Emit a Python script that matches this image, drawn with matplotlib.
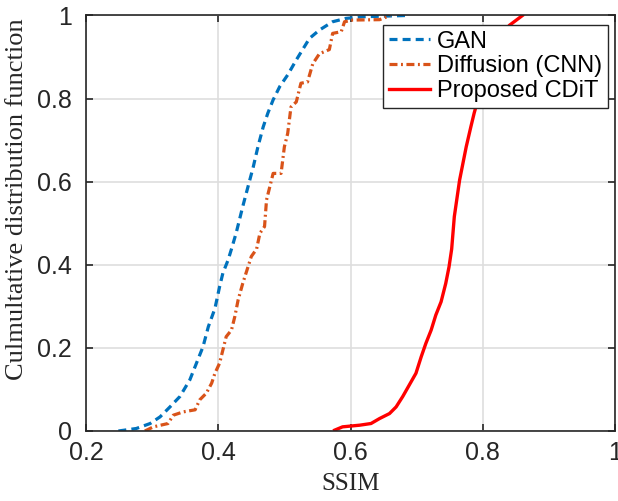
import matplotlib.pyplot as plt

gan_x = [0.249, 0.276, 0.297, 0.312, 0.327, 0.342, 0.357, 0.367, 0.377, 0.385,
         0.395, 0.402, 0.407, 0.415, 0.420, 0.427, 0.437, 0.445, 0.453, 0.460,
         0.468, 0.475, 0.483, 0.493, 0.505, 0.518, 0.538, 0.553, 0.573, 0.593,
         0.619, 0.684]
gan_y = [0.000, 0.006, 0.018, 0.034, 0.058, 0.083, 0.123, 0.163, 0.203, 0.251,
         0.295, 0.347, 0.380, 0.412, 0.438, 0.476, 0.540, 0.588, 0.636, 0.684,
         0.732, 0.765, 0.797, 0.829, 0.857, 0.893, 0.945, 0.965, 0.985, 0.993,
         0.997, 1.000]

diff_x = [0.289, 0.302, 0.324, 0.332, 0.347, 0.365, 0.372, 0.382, 0.390, 0.395,
          0.402, 0.407, 0.412, 0.420, 0.425, 0.430, 0.437, 0.445, 0.450, 0.458,
          0.463, 0.470, 0.473, 0.483, 0.495, 0.500, 0.505, 0.510, 0.518, 0.525,
          0.535, 0.543, 0.553, 0.568, 0.573, 0.586, 0.591, 0.603, 0.644, 0.660]
diff_y = [0.000, 0.010, 0.018, 0.038, 0.046, 0.051, 0.075, 0.091, 0.115, 0.139,
          0.163, 0.195, 0.227, 0.243, 0.275, 0.315, 0.355, 0.395, 0.420, 0.438,
          0.476, 0.492, 0.556, 0.620, 0.620, 0.684, 0.716, 0.780, 0.792, 0.837,
          0.840, 0.884, 0.908, 0.918, 0.957, 0.961, 0.985, 0.989, 0.990, 1.000]

cdit_x = [0.576, 0.588, 0.614, 0.631, 0.644, 0.659, 0.669, 0.679, 0.689, 0.699,
          0.707, 0.714, 0.722, 0.729, 0.737, 0.744, 0.749, 0.753, 0.757, 0.765,
          0.775, 0.782, 0.787, 0.800, 0.815, 0.828, 0.840, 0.860]
cdit_y = [0.002, 0.010, 0.014, 0.018, 0.030, 0.042, 0.058, 0.083, 0.111, 0.139,
          0.179, 0.211, 0.243, 0.279, 0.311, 0.355, 0.395, 0.438, 0.516, 0.604,
          0.684, 0.732, 0.765, 0.840, 0.900, 0.940, 0.976, 1.000]

x_ticks = [0.2, 0.4, 0.6, 0.8, 1.0]
x_tick_labels = ['0.2', '0.4', '0.6', '0.8', '1']
y_ticks = [0, 0.2, 0.4, 0.6, 0.8, 1.0]
y_tick_labels = ['0', '0.2', '0.4', '0.6', '0.8', '1']

axis_col = '#262626'

fig = plt.figure(figsize=(6.18, 5.01), dpi=100)
ax = fig.add_axes([86 / 618, 70 / 501, 529 / 618, 415.5 / 501])

ax.plot(gan_x, gan_y, color='#0072BD', lw=2.3, linestyle=(0, (2.5, 1.6)), label='GAN')
ax.plot(diff_x, diff_y, color='#D95319', lw=2.3, linestyle=(0, (2.5, 1.1, 0.6, 1.1)),
        label='Diffusion (CNN)')
ax.plot(cdit_x, cdit_y, color='#FF0000', lw=2.4, label='Proposed CDiT')

ax.set_xlim(0.2, 1.0)
ax.set_ylim(0, 1.0)
ax.set_xticks(x_ticks)
ax.set_xticklabels(x_tick_labels)
ax.set_yticks(y_ticks)
ax.set_yticklabels(y_tick_labels)

ax.grid(True, color='#dedede', lw=1.2)
ax.set_axisbelow(True)
for s in ax.spines.values():
    s.set_color(axis_col)
    s.set_linewidth(1.2)
ax.tick_params(direction='in', length=5, width=1.2, color=axis_col,
               labelcolor=axis_col, top=True, right=True,
               labelsize=18)
ax.tick_params(axis='x', pad=7)
ax.tick_params(axis='y', pad=10)
for lab in ax.get_xticklabels() + ax.get_yticklabels():
    lab.set_family('Liberation Sans')

ax.set_xlabel('SSIM', family='Liberation Serif', fontsize=18, color=axis_col, labelpad=6)
ax.set_ylabel('Culmultative distribution function', family='Liberation Serif',
              fontsize=19, color=axis_col)
ax.yaxis.set_label_coords(-0.11, 0.558)

leg = ax.legend(loc='upper right', bbox_to_anchor=(0.987, 0.978),
                prop={'family': 'Liberation Sans', 'size': 17},
                fancybox=False, framealpha=1, edgecolor=axis_col,
                handlelength=1.75, handletextpad=0.3, labelspacing=0.12,
                borderpad=0.25, borderaxespad=0)
leg.get_frame().set_linewidth(1.0)

fig.savefig('out.png', dpi=100)
